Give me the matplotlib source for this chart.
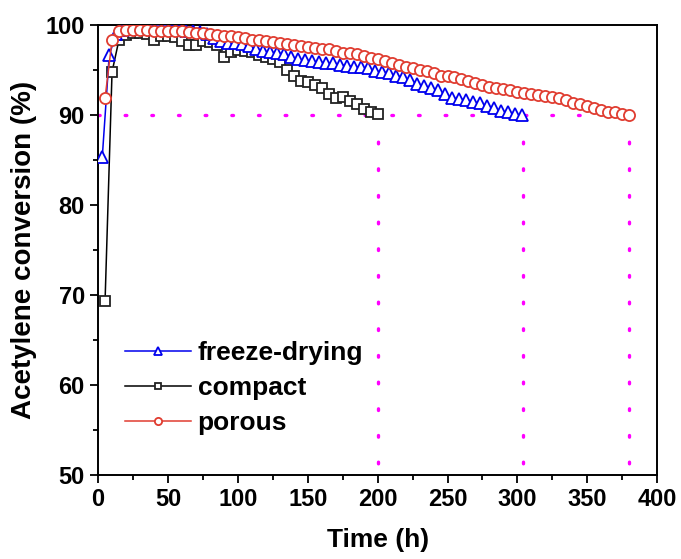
import numpy as np
import matplotlib.pyplot as plt
from matplotlib.ticker import MultipleLocator

# compact, every 5 h
t_compact = np.arange(5, 201, 5)
y_compact = [69.3, 94.8, 98.4, 98.9, 99.1, 99.1, 99.0, 98.3, 98.8, 98.8,
             98.7, 98.2, 97.8, 97.8, 98.2, 98.1, 97.8, 96.5, 97.0, 97.2,
             97.1, 97.0, 96.7, 96.5, 96.2, 95.9, 95.0, 94.3, 93.8, 93.7,
             93.3, 93.0, 92.4, 91.9, 92.0, 91.6, 91.2, 90.7, 90.4, 90.1]

# freeze-drying
t_freeze = np.arange(3, 304, 5)
y_freeze = [85.3, 96.7, 99.0, 99.5, 99.6, 99.6, 99.6, 99.6, 99.6, 99.6,
            99.5, 99.5, 99.4, 99.3, 99.2, 99.0, 98.6, 98.2, 98.0, 98.0,
            97.9, 97.7, 97.4, 97.1, 97.0, 96.9, 96.8, 96.5, 96.2, 96.1,
            96.0, 95.9, 95.8, 95.8, 95.6, 95.5, 95.4, 95.3, 95.2, 94.9,
            94.8, 94.7, 94.4, 94.2, 93.9, 93.5, 93.2, 93.0, 92.8, 92.3,
            91.9, 91.8, 91.7, 91.5, 91.3, 91.0, 90.8, 90.5, 90.3, 90.1, 90.0]

# porous
t_porous = np.arange(5, 381, 5)
y_porous = [91.9, 98.3, 99.4, 99.5, 99.5, 99.5, 99.5, 99.4, 99.4, 99.4,
            99.3, 99.3, 99.2, 99.1, 99.1, 99.0, 98.9, 98.8, 98.8, 98.7,
            98.6, 98.4, 98.3, 98.2, 98.1, 98.0, 97.9, 97.8, 97.7, 97.6,
            97.5, 97.4, 97.3, 97.1, 96.9, 96.9, 96.8, 96.6, 96.4, 96.2,
            96.0, 95.8, 95.6, 95.4, 95.2, 95.0, 94.9, 94.7, 94.4, 94.3,
            94.2, 94.0, 93.8, 93.6, 93.3, 93.1, 93.0, 92.9, 92.8, 92.6,
            92.5, 92.3, 92.2, 92.1, 92.0, 91.9, 91.7, 91.4, 91.2, 91.0,
            90.8, 90.6, 90.4, 90.3, 90.1, 90.0]

end_times = [200, 304, 380]
level = 90

plt.rcParams['font.family'] = ['Liberation Sans', 'DejaVu Sans']
plt.rcParams['font.weight'] = 'bold'

fig = plt.figure(figsize=(6.81, 5.59), dpi=100)
ax = fig.add_axes([0.144, 0.150, 0.821, 0.805])

mag = '#ff00ff'
ax.plot([0, 400], [level, level], color=mag, lw=2.4, ls=(0, (0.5, 7.5)),
        dash_capstyle='round', clip_on=False, zorder=1)
for t in end_times:
    ax.plot([t, t], [level, 50], color=mag, lw=2.4, ls=(0, (0.5, 7.5)),
            dash_capstyle='round', clip_on=False, zorder=1)

ax.plot(t_compact, y_compact, color='black', lw=1.1, marker='s', ms=7,
        mfc='white', mec='#222222', mew=1.3, label='compact', zorder=3)
ax.plot(t_freeze, y_freeze, color='#0000ee', lw=1.1, marker='^', ms=9,
        mfc='white', mec='#0000ee', mew=1.3, label='freeze-drying', zorder=4)
ax.plot(t_porous, y_porous, color='#e03c30', lw=1.1, marker='o', ms=8,
        mfc='white', mec='#e03c30', mew=1.3, label='porous', zorder=5)

ax.set_xlim(0, 400)
ax.set_ylim(50, 100)
ax.xaxis.set_major_locator(MultipleLocator(50))
ax.xaxis.set_minor_locator(MultipleLocator(25))
ax.yaxis.set_major_locator(MultipleLocator(10))
ax.yaxis.set_minor_locator(MultipleLocator(5))
ax.tick_params(which='both', direction='out', width=1.3)
ax.tick_params(which='major', length=6, labelsize=17)
ax.tick_params(which='minor', length=3.5)
for s in ax.spines.values():
    s.set_linewidth(1.4)

ax.set_xlabel('Time (h)', fontsize=19, fontweight='bold', labelpad=12)
ax.set_ylabel('Acetylene conversion (%)', fontsize=20, fontweight='bold', labelpad=6)

h, l = ax.get_legend_handles_labels()
order = [1, 0, 2]
ax.legend([h[i] for i in order], [l[i] for i in order], loc='lower left',
          bbox_to_anchor=(0.02, 0.053), frameon=False,
          markerscale=0.65, handlelength=2.5, handletextpad=0.25,
          labelspacing=0.42, borderaxespad=0.2,
          prop={'weight': 'bold', 'size': 19})

fig.savefig('out.png', dpi=100)
